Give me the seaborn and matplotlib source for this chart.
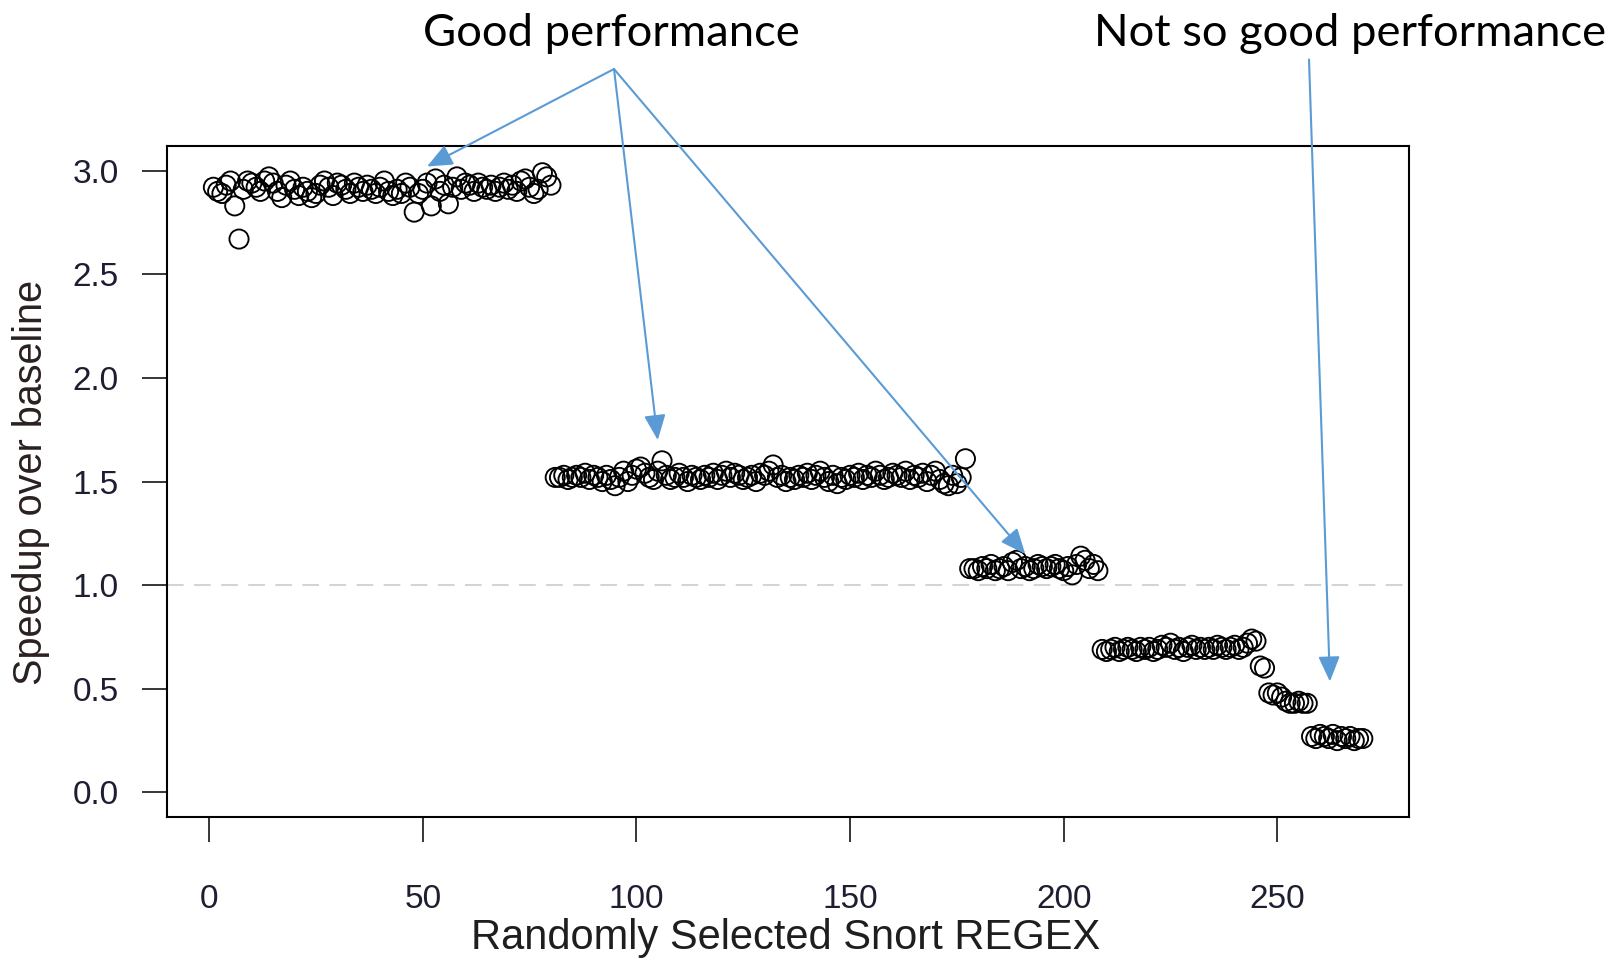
import numpy as np
import pandas as pd
import matplotlib
matplotlib.use("Agg")
import matplotlib.pyplot as plt
import seaborn as sns

# ---- data ----
group_a = [2.92, 2.90, 2.89, 2.93, 2.95, 2.83, 2.67, 2.91, 2.95, 2.94,
           2.92, 2.90, 2.95, 2.97, 2.94, 2.90, 2.87, 2.93, 2.95, 2.91,
           2.88, 2.92, 2.90, 2.87, 2.89, 2.93, 2.95, 2.92, 2.88, 2.94,
           2.93, 2.91, 2.89, 2.94, 2.92, 2.90, 2.93, 2.91, 2.89, 2.92,
           2.95, 2.90, 2.88, 2.91, 2.89, 2.94, 2.92, 2.80, 2.89, 2.91,
           2.94, 2.83, 2.96, 2.90, 2.93, 2.84, 2.92, 2.97, 2.91, 2.94,
           2.93, 2.90, 2.94, 2.92, 2.91, 2.93, 2.90, 2.92, 2.94, 2.91,
           2.93, 2.90, 2.95, 2.96, 2.92, 2.89, 2.91, 2.99, 2.97, 2.93]
group_b = [1.52, 1.52, 1.53, 1.51, 1.52, 1.53, 1.52, 1.54, 1.51, 1.53,
           1.52, 1.50, 1.53, 1.51, 1.48, 1.52, 1.55, 1.50, 1.53, 1.56,
           1.57, 1.54, 1.52, 1.51, 1.55, 1.60, 1.53, 1.51, 1.52, 1.54,
           1.52, 1.50, 1.53, 1.52, 1.51, 1.53, 1.52, 1.54, 1.51, 1.53,
           1.55, 1.52, 1.54, 1.53, 1.51, 1.52, 1.53, 1.50, 1.54, 1.53,
           1.55, 1.58, 1.52, 1.53, 1.50, 1.52, 1.51, 1.53, 1.52, 1.54,
           1.51, 1.53, 1.55, 1.52, 1.50, 1.53, 1.49, 1.52, 1.51, 1.53,
           1.52, 1.54, 1.51, 1.53, 1.52, 1.55, 1.53, 1.51, 1.52, 1.54,
           1.53, 1.52, 1.55, 1.51, 1.53, 1.52, 1.54, 1.50, 1.53, 1.55,
           1.51, 1.49, 1.48, 1.53, 1.49, 1.52, 1.61]
group_c = [1.08, 1.08, 1.07, 1.09, 1.08, 1.10, 1.07, 1.08, 1.09, 1.07,
           1.11, 1.12, 1.08, 1.09, 1.07, 1.08, 1.10, 1.09, 1.08, 1.09,
           1.10, 1.08, 1.07, 1.09, 1.05, 1.10, 1.14, 1.12, 1.08, 1.10,
           1.07]
group_d = [0.69, 0.68, 0.69, 0.70, 0.68, 0.69, 0.70, 0.69, 0.68, 0.70,
           0.69, 0.70, 0.68, 0.69, 0.71, 0.70, 0.72, 0.69, 0.70, 0.68,
           0.70, 0.71, 0.69, 0.70, 0.69, 0.70, 0.69, 0.71, 0.70, 0.69,
           0.70, 0.71, 0.69, 0.70, 0.72, 0.74, 0.73]
group_e = [0.61, 0.60]
group_f = [0.48, 0.47, 0.48, 0.46]
group_g = [0.44, 0.43, 0.43, 0.44, 0.43, 0.43]
group_h = [0.27, 0.26, 0.28, 0.27, 0.26, 0.28, 0.25, 0.27, 0.26, 0.27,
           0.25, 0.26, 0.26]

speedup = group_a + group_b + group_c + group_d + group_e + group_f + group_g + group_h
regex_index = np.arange(1, len(speedup) + 1)
df = pd.DataFrame({"regex": regex_index, "speedup": speedup})

x_ticks = [0, 50, 100, 150, 200, 250]
y_ticks = [0.0, 0.5, 1.0, 1.5, 2.0, 2.5, 3.0]
y_tick_labels = ["0.0", "0.5", "1.0", "1.5", "2.0", "2.5", "3.0"]
x_label = "Randomly Selected Snort REGEX"
y_label = "Speedup over baseline"
good_text = "Good performance"
bad_text = "Not so good performance"
good_targets = [(51, 3.02), (105, 1.70), (191, 1.15)]
bad_target = (262.3, 0.535)

# ---- figure ----
sns.set_style("white")
plt.rcParams["font.family"] = ["Liberation Sans", "DejaVu Sans"]

W, H = 1610, 964
fig = plt.figure(figsize=(W / 100, H / 100), dpi=100)
ax = fig.add_axes([167.4 / W, 1 - 817.3 / H, (1408.8 - 167.4) / W, (817.3 - 145.8) / H])

ax.axhline(1.0, color="#d4d4d4", lw=1.5, ls=(0, (8, 5)), zorder=1)

sns.scatterplot(data=df, x="regex", y="speedup", ax=ax, marker="o", s=190,
                facecolor="none", edgecolor="black", linewidth=1.35, zorder=3,
                legend=False)

ax.set_xlim(1 - 0.04 * 269, 270 + 0.04 * 269)
ax.set_ylim(-0.12, 3.12)
ax.set_xticks(x_ticks)
ax.set_xticklabels([str(t) for t in x_ticks])
ax.set_yticks(y_ticks)
ax.set_yticklabels(y_tick_labels)

for s in ax.spines.values():
    s.set_visible(True)
    s.set_color("black")
    s.set_linewidth(1.5)

ax.tick_params(axis="both", which="major", direction="out", length=18, width=1.1,
               color="black", labelsize=24, labelcolor="#1e1e32",
               bottom=True, left=True, top=False, right=False)
ax.tick_params(axis="x", pad=30)
ax.tick_params(axis="y", pad=17)

ax.set_xlabel("")
ax.set_ylabel("")
fig.text(786 / W, 1 - 938 / H, x_label, ha="center", va="center", fontsize=30, color="#1e1e1e")
fig.text(31 / W, 1 - 482 / H, y_label, ha="center", va="center", rotation=90,
         fontsize=28.5, color="#2a2020")

# annotations
blue = "#5B9BD5"
title_font = ["Lato", "DejaVu Sans"]
fig.text(611 / W, 1 - 34 / H, good_text, ha="center", va="center", fontsize=32.7,
         family=title_font, color="black")
fig.text(1350 / W, 1 - 34 / H, bad_text, ha="center", va="center", fontsize=32.7,
         family=title_font, color="black")

for tx, ty in good_targets:
    ax.annotate("", xy=(tx, ty), xycoords="data",
                xytext=(614, H - 69), textcoords="figure pixels",
                arrowprops=dict(arrowstyle="-|>,head_length=0.7,head_width=0.3",
                                color=blue, lw=1.5, shrinkA=0, shrinkB=0,
                                mutation_scale=22),
                annotation_clip=False)
ax.annotate("", xy=bad_target, xycoords="data",
            xytext=(1309, H - 59.5), textcoords="figure pixels",
            arrowprops=dict(arrowstyle="-|>,head_length=0.7,head_width=0.3",
                            color=blue, lw=1.5, shrinkA=0, shrinkB=0,
                            mutation_scale=22),
            annotation_clip=False)

fig.savefig("out.png", dpi=100, facecolor="white")
